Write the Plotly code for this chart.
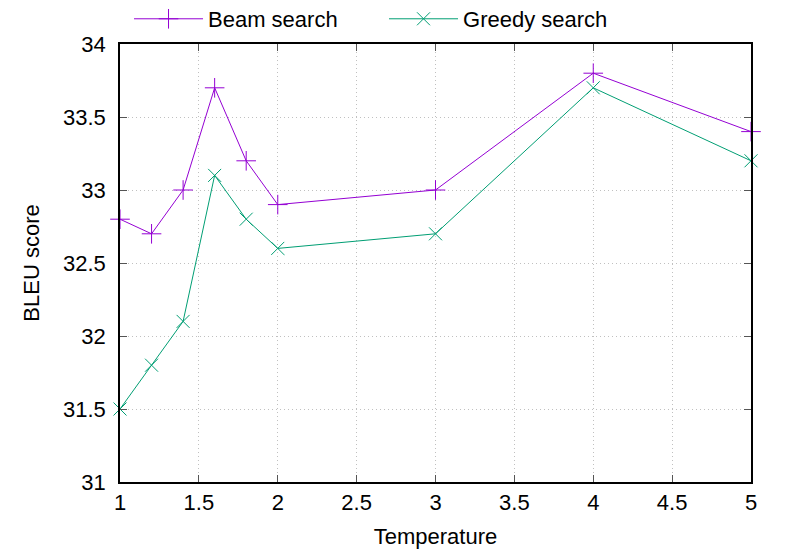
import plotly.graph_objects as go

temperature = [1, 1.2, 1.4, 1.6, 1.8, 2, 3, 4, 5]
beam = [32.8, 32.7, 33.0, 33.7, 33.2, 32.9, 33.0, 33.8, 33.4]
greedy = [31.5, 31.8, 32.1, 33.1, 32.8, 32.6, 32.7, 33.7, 33.2]

font = dict(family='Liberation Sans, Arial, sans-serif', size=22, color='black')

fig = go.Figure()

fig.add_trace(go.Scatter(
    x=temperature, y=beam, name='Beam search', mode='lines+markers',
    line=dict(color='#9400D3', width=1),
    marker=dict(symbol='cross-thin', size=14, line=dict(color='#9400D3', width=1)),
    cliponaxis=False
))

fig.add_trace(go.Scatter(
    x=temperature, y=greedy, name='Greedy search', mode='lines+markers',
    line=dict(color='#009E73', width=1),
    marker=dict(symbol='x-thin', size=13, line=dict(color='#009E73', width=1)),
    cliponaxis=False
))

axis_style = dict(
    showline=True, linecolor='black', linewidth=1.5, mirror='ticks',
    ticks='inside', ticklen=7, tickcolor='#555', tickwidth=1,
    showgrid=True, gridcolor='#c0c0c0', griddash='1px,3px', gridwidth=1,
    zeroline=False, tickfont=font, automargin=False,
)

fig.update_xaxes(title=dict(text='Temperature', font=font, standoff=14),
                 range=[1, 5], dtick=0.5, ticklabelstandoff=0, **axis_style)
fig.update_yaxes(title=dict(text='BLEU score', font=font, standoff=17),
                 range=[31, 34], dtick=0.5, ticklabelstandoff=8, **axis_style)

# the page body has an 8px margin, so the figure is sized to fit inside it
fig.update_layout(
    width=781, height=544,
    margin=dict(l=112, r=38, t=36, b=70),
    plot_bgcolor='white', paper_bgcolor='white',
    font=font,
    legend=dict(orientation='h', x=0.0143, xanchor='left', y=0.9798, yanchor='middle',
                yref='container', itemwidth=69, entrywidth=171, entrywidthmode='pixels',
                font=font, bgcolor='rgba(0,0,0,0)'),
)

fig.write_html("out.html")
